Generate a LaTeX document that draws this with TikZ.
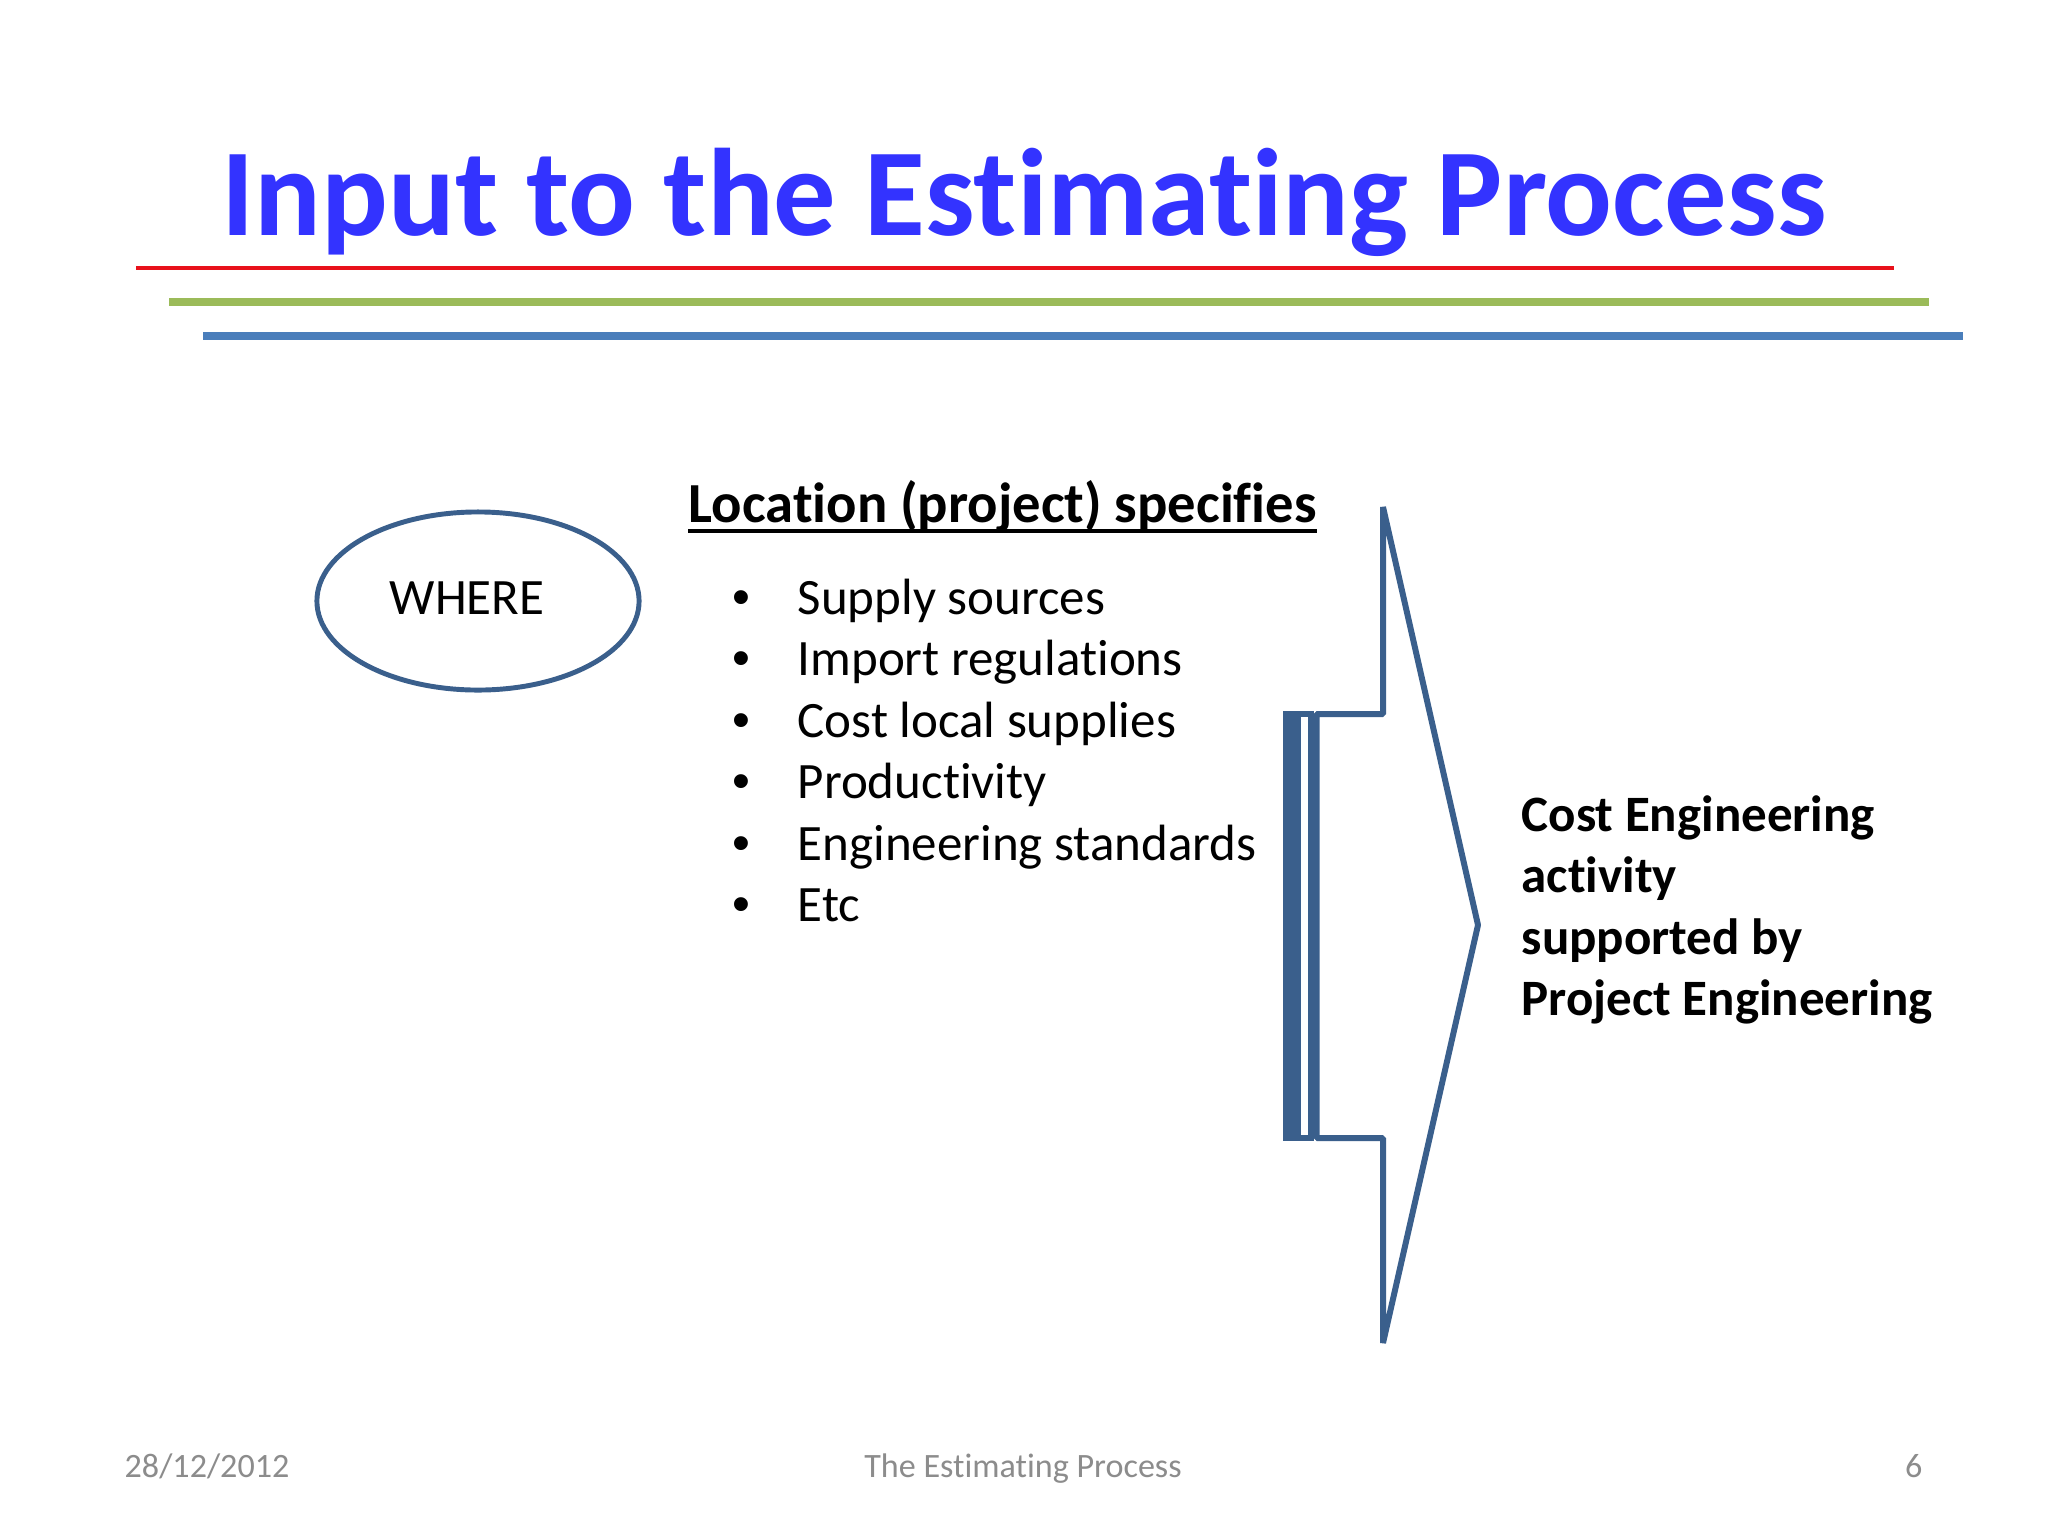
\documentclass[tikz,border=0pt]{standalone}
\usepackage{fontspec}
\setmainfont{Carlito}[Ligatures=NoCommon]
\newfontfamily\bulfont{Liberation Sans}
\usetikzlibrary{shapes.geometric}
\definecolor{titleblue}{HTML}{3333FF}
\definecolor{outl}{HTML}{3A5F8C}
\definecolor{redl}{HTML}{E8111B}
\definecolor{greenl}{HTML}{9BBB59}
\definecolor{bluel}{HTML}{4A7EBB}
\definecolor{foot}{HTML}{8C8C8C}
\tikzset{
  txt/.style={inner sep=0pt, anchor=base west, font=\fontsize{14.5}{17.4}\selectfont},
  rtxt/.style={inner sep=0pt, anchor=base west, font=\fontsize{14.5}{17.4}\selectfont\bfseries},
  bul/.style={inner sep=0pt, anchor=base, font=\bulfont\fontsize{14.5}{17.4}\selectfont},
  foottxt/.style={inner sep=0pt, font=\fontsize{9.7}{11}\selectfont, text=foot},
  shapeline/.style={draw=outl, line width=1.7pt, line join=bevel},
  stripe/.style={draw=outl, line width=1.7pt, line join=miter}
}
\begin{document}
\begin{tikzpicture}[x=0.01cm,y=-0.01cm]
\useasboundingbox (0,0) rectangle (2048,1536);
\fill[white] (0,0) rectangle (2048,1536);

% title
\node[inner sep=0pt, anchor=base, text=titleblue,
      font=\fontsize{35.4}{40}\selectfont\bfseries] (title) at (1024,235)
      {Input to the Estimating Process};

% coloured rules
\coordinate (r1a) at (136,268);  \coordinate (r1b) at (1894,268);
\coordinate (r2a) at (169,302);  \coordinate (r2b) at (1929,302);
\coordinate (r3a) at (203,336);  \coordinate (r3b) at (1963,336);
\draw[redl, line width=1.1pt] (r1a) -- (r1b);
\draw[greenl, line width=2pt] (r2a) -- (r2b);
\draw[bluel, line width=2.4pt] (r3a) -- (r3b);

% WHERE ellipse
\node[ellipse, draw=outl, line width=1.4pt, minimum width=3.22cm, minimum height=1.78cm,
      inner sep=0pt] (where) at (478,601) {};
\node[inner sep=0pt, anchor=base, font=\fontsize{14.5}{17.4}\selectfont] (wheretxt) at (467,614) {WHERE};

% heading
\node[inner sep=0pt, anchor=base west, font=\fontsize{16.1}{19}\selectfont\bfseries] (head) at (688,522)
      {Location (project) specifies};
\draw[line width=1pt] ([yshift=-0.09cm]head.base west) -- ([yshift=-0.09cm]head.base east);

% bullet list
\node[bul] (b1) at (741,614) {•};
\node[txt] (t1) at (797,614) {Supply sources};
\node[bul] (b2) at (741,675.5) {•};
\node[txt] (t2) at (797,675.5) {Import regulations};
\node[bul] (b3) at (741,737) {•};
\node[txt] (t3) at (797,737) {Cost local supplies};
\node[bul] (b4) at (741,798) {•};
\node[txt] (t4) at (797,798) {Productivity};
\node[bul] (b5) at (741,860) {•};
\node[txt] (t5) at (797,860) {Engineering standards};
\node[bul] (b6) at (741,921) {•};
\node[txt] (t6) at (797,921) {Etc};

% striped arrow
\draw[stripe] (1286,714) rectangle (1292,1138);
\draw[stripe] (1298,714) rectangle (1310.5,1138);
\draw[shapeline] (1316.5,714) -- (1383,714) -- (1383,507) -- (1478,925)
      -- (1383,1343) -- (1383,1138) -- (1316.5,1138) -- cycle;

% right text
\node[rtxt] (c1) at (1521,831) {Cost Engineering};
\node[rtxt] (c2) at (1521,892.5) {activity};
\node[rtxt] (c3) at (1521,954) {supported by};
\node[rtxt] (c4) at (1521,1015) {Project Engineering};

% footer
\node[foottxt, anchor=base west] (date) at (124,1477) {28/12/2012};
\node[foottxt, anchor=base] (ftitle) at (1023,1477) {The Estimating Process};
\node[foottxt, anchor=base east] (pnum) at (1923,1477) {6};
\end{tikzpicture}
\end{document}
